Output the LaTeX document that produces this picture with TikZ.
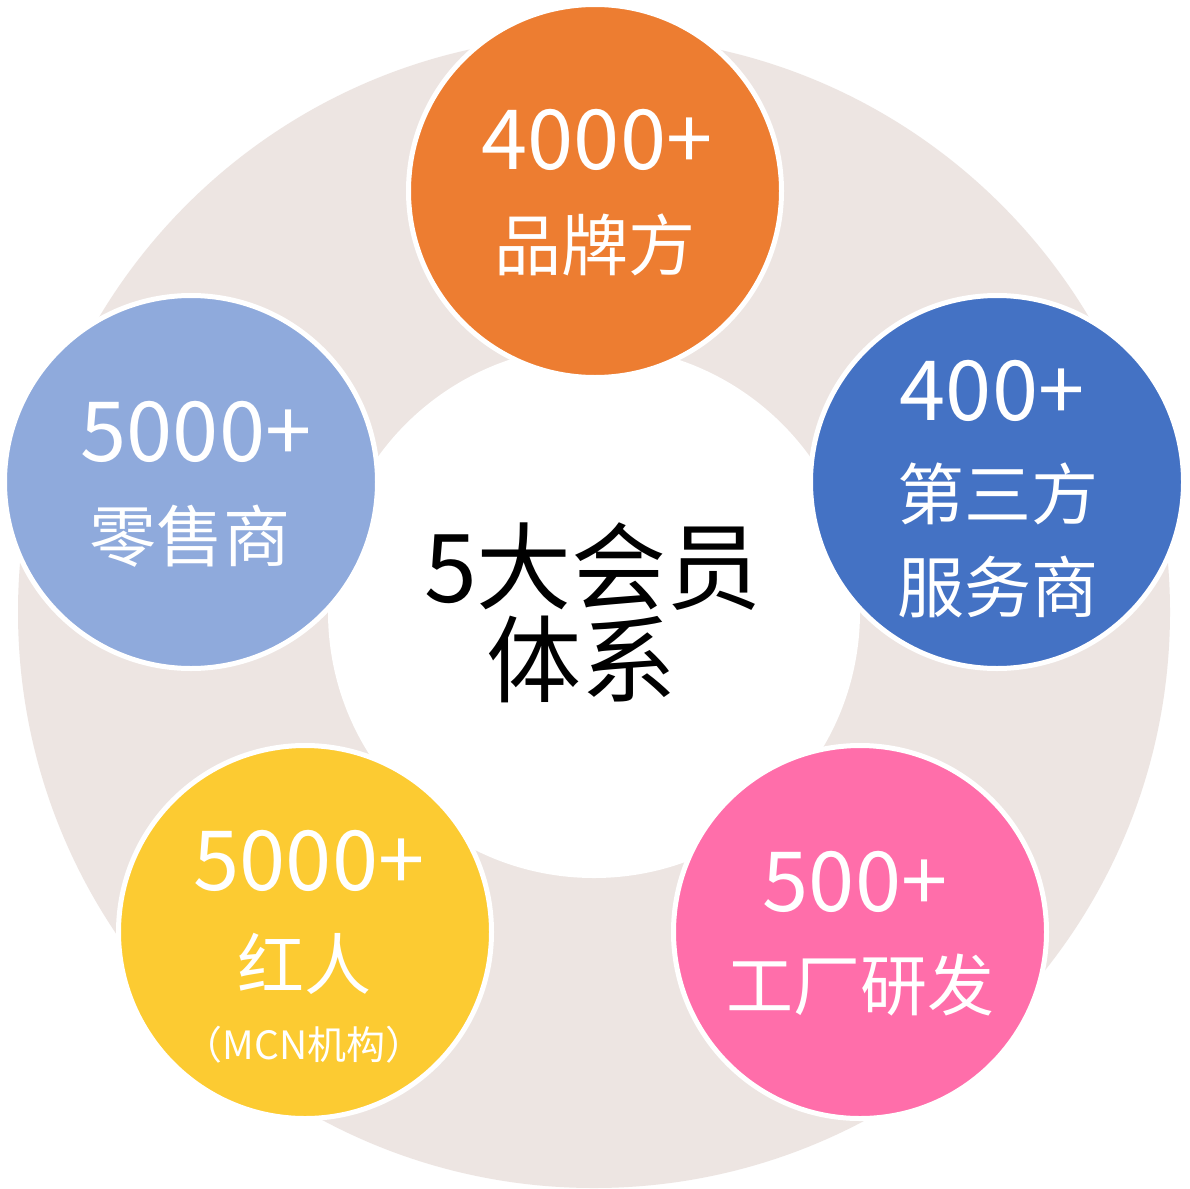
\documentclass[tikz,border=0pt]{standalone}
\usepackage{fontspec}
\setmainfont{Noto Sans CJK SC}
\definecolor{ringc}{RGB}{237,229,226}
\definecolor{orangec}{RGB}{237,125,49}
\definecolor{bluec}{RGB}{68,114,196}
\definecolor{lbluec}{RGB}{143,170,220}
\definecolor{yellowc}{RGB}{252,203,50}
\definecolor{pinkc}{RGB}{255,110,170}
\tikzset{
  member/.style={circle, draw=white, line width=5pt, minimum size=373pt, inner sep=0pt},
  numtxt/.style={text=white, inner sep=0pt, font=\fontsize{83}{83}\selectfont},
  cjktxt/.style={text=white, inner sep=0pt, font=\fontsize{67}{67}\selectfont},
  smalltxt/.style={text=white, inner sep=0pt, font=\fontsize{39}{39}\selectfont},
  centertxt/.style={text=black, inner sep=0pt, font=\fontsize{95}{95}\selectfont}
}
\begin{document}
\begin{tikzpicture}[x=1pt,y=-1pt]
\useasboundingbox (0,0) rectangle (1190,1188);
\fill[white] (0,0) rectangle (1190,1188);
% ring
\node[circle, fill=ringc, minimum size=1152pt, inner sep=0pt] (ring) at (594,612) {};
\node[circle, fill=white, minimum size=532pt, inner sep=0pt] (hub) at (594,612) {};
% member circles
\node[member, fill=orangec] (brand) at (595,191) {};
\node[member, fill=bluec] (service) at (997,482) {};
\node[member, fill=lbluec] (retail) at (191,482) {};
\node[member, fill=yellowc] (kol) at (305,932) {};
\node[member, fill=pinkc] (factory) at (860,932) {};
% texts
\node[numtxt] (t1a) at (597,140) {4000+};
\node[cjktxt] (t1b) at (595,245) {品牌方};
\node[numtxt] (t2a) at (992,391) {400+};
\node[cjktxt] (t2b) at (998,494) {第三方};
\node[cjktxt] (t2c) at (998,587) {服务商};
\node[numtxt] (t3a) at (196,432) {5000+};
\node[cjktxt] (t3b) at (190,536) {零售商};
\node[numtxt] (t4a) at (309,861) {5000+};
\node[cjktxt] (t4b) at (304,964) {红人};
\node[smalltxt] (t4c) at (304,1045) {（MCN机构）};
\node[numtxt] (t5a) at (855,882) {500+};
\node[cjktxt] (t5b) at (860,985) {工厂研发};
\node[centertxt] (c1) at (593,567) {5大会员};
\node[centertxt] (c2) at (581,659) {体系};
\end{tikzpicture}
\end{document}
